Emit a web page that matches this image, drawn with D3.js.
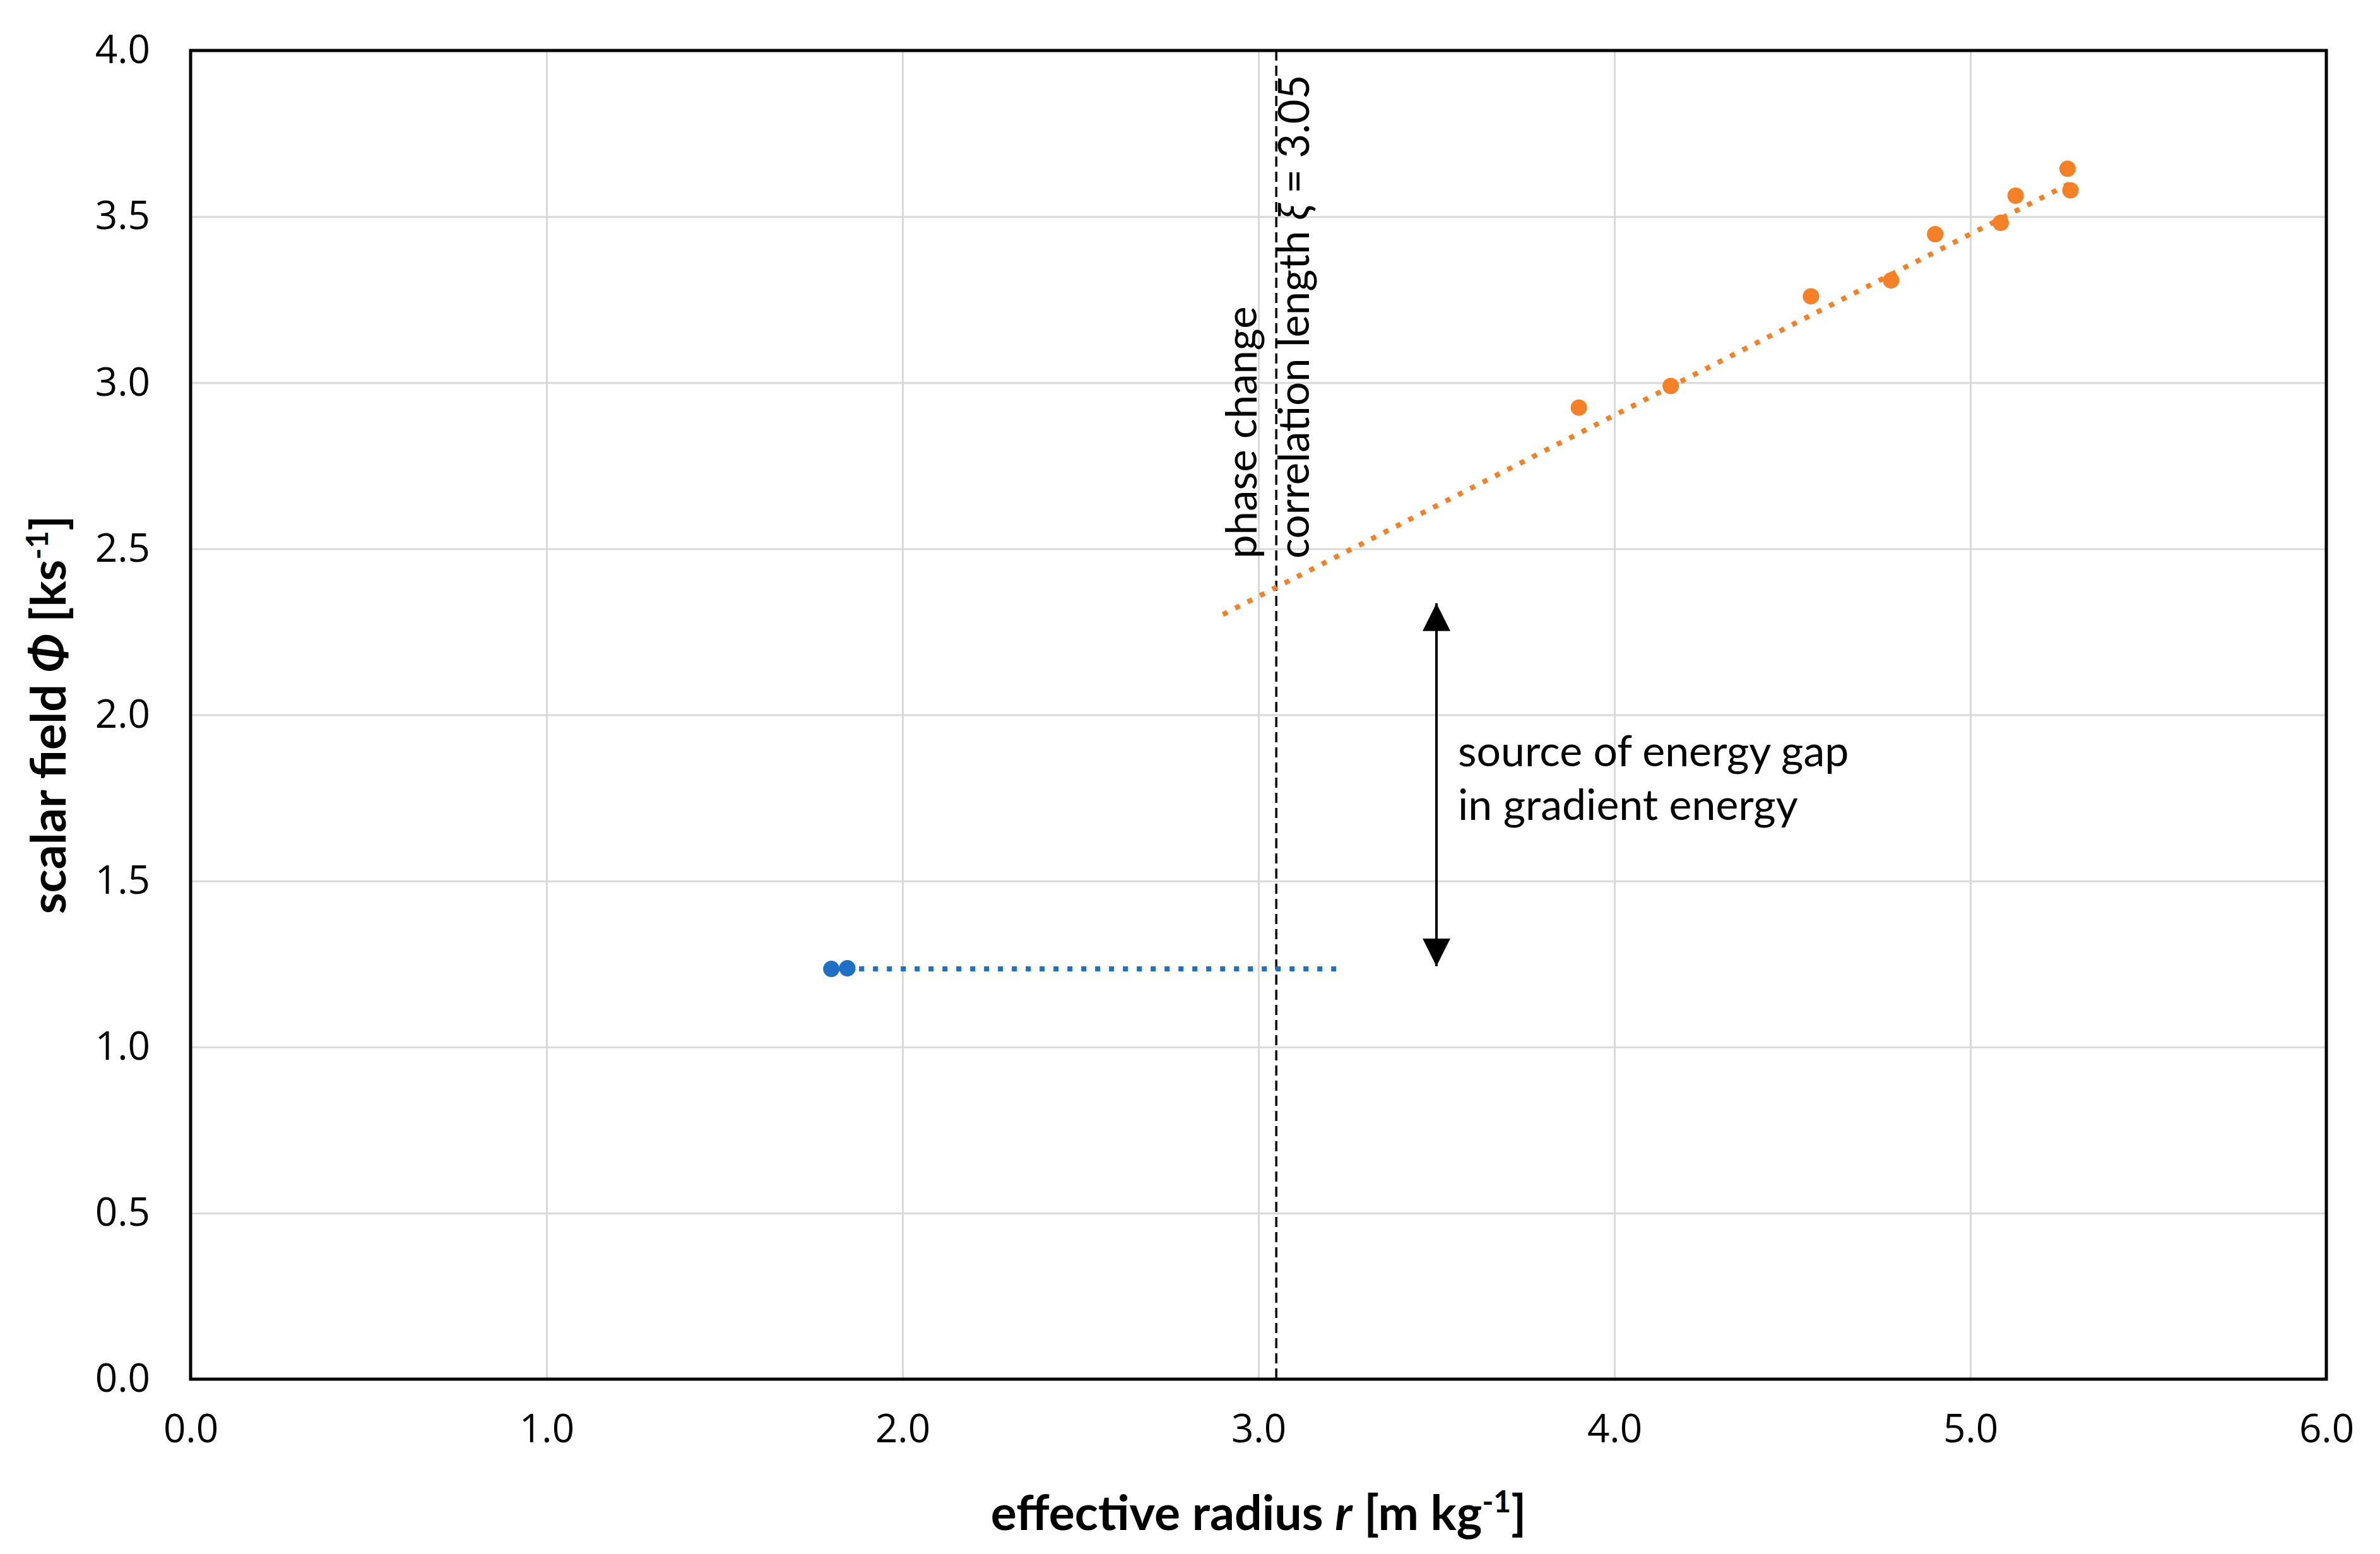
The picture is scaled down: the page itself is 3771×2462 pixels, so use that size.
<!DOCTYPE html>
<html>
<head>
<meta charset="utf-8">
<script src="https://cdn.jsdelivr.net/npm/d3@7"></script>
<style>
  body { margin: 0; background: #fff; }
  svg { display: block; }
  .tick text { font-family: "Open Sans", sans-serif; fill: #000; }
</style>
</head>
<body>
<svg id="chart" width="3771" height="2462"></svg>
<script>
// data
const blueX = [1.80, 1.845];
const blueY = [1.235, 1.237];
const orangeX = [3.90, 4.158, 4.552, 4.777, 4.901, 5.085, 5.127, 5.273, 5.281];
const orangeY = [2.925, 2.990, 3.260, 3.308, 3.447, 3.481, 3.563, 3.644, 3.579];

// trendlines (excel-style, with backward / forward forecast)
const blueTrendX = [1.80, 3.235];
const blueTrendY = [1.235, 1.235];
const orangeTrendX = [2.90, 5.28];
const orangeTrendY = [2.302, 3.600];

const xTicks = [0, 1, 2, 3, 4, 5, 6];
const yTicks = [0, 0.5, 1, 1.5, 2, 2.5, 3, 3.5, 4];

const phaseX = 3.05;          // correlation length
const gapArrowX = 3.5;
const gapArrowY = [1.243, 2.336];

const margin = { left: 302, right: 85, top: 80, bottom: 277 };
const W = 3771, H = 2462;
const plotW = W - margin.left - margin.right;
const plotH = H - margin.top - margin.bottom;

const svg = d3.select("#chart");

const defs = svg.append("defs");
defs.append("marker")
    .attr("id", "ahead")
    .attr("viewBox", "0 0 10 10")
    .attr("refX", 10).attr("refY", 5)
    .attr("markerWidth", 11).attr("markerHeight", 11)
    .attr("markerUnits", "strokeWidth")
    .attr("orient", "auto-start-reverse")
    .append("path")
    .attr("d", "M0,0 L10,5 L0,10 Z")
    .attr("fill", "#000");

const g = svg.append("g").attr("transform", `translate(${margin.left},${margin.top})`);

const x = d3.scaleLinear().domain([0, 6]).range([0, plotW]);
const y = d3.scaleLinear().domain([0, 4]).range([plotH, 0]);

// gridlines
g.append("g")
    .attr("transform", `translate(0,${plotH})`)
    .call(d3.axisBottom(x).tickValues(xTicks).tickSize(-plotH).tickFormat(""))
    .call(s => s.select(".domain").remove())
    .call(s => s.selectAll("line").attr("stroke", "#d9d9d9").attr("stroke-width", 3));

g.append("g")
    .call(d3.axisLeft(y).tickValues(yTicks).tickSize(-plotW).tickFormat(""))
    .call(s => s.select(".domain").remove())
    .call(s => s.selectAll("line").attr("stroke", "#d9d9d9").attr("stroke-width", 3));

// tick labels
g.append("g")
    .attr("transform", `translate(0,${plotH})`)
    .call(d3.axisBottom(x).tickValues(xTicks).tickSize(0).tickPadding(56).tickFormat(d3.format(".1f")))
    .call(s => s.select(".domain").remove())
    .call(s => s.selectAll("text").attr("font-size", 62));

g.append("g")
    .call(d3.axisLeft(y).tickValues(yTicks).tickSize(0).tickPadding(64).tickFormat(d3.format(".1f")))
    .call(s => s.select(".domain").remove())
    .call(s => s.selectAll("text").attr("font-size", 62));

// plot border
g.append("rect")
    .attr("width", plotW).attr("height", plotH)
    .attr("fill", "none").attr("stroke", "#000").attr("stroke-width", 5);

// phase change line
g.append("line")
    .attr("x1", x(phaseX)).attr("x2", x(phaseX))
    .attr("y1", 0).attr("y2", plotH)
    .attr("stroke", "#000").attr("stroke-width", 3.5)
    .attr("stroke-dasharray", "16,8");

const line = d3.line().x(d => x(d[0])).y(d => y(d[1]));

// trendlines
g.append("path")
    .datum(d3.zip(blueTrendX, blueTrendY))
    .attr("d", line)
    .attr("fill", "none").attr("stroke", "#1f6fc6").attr("stroke-width", 8)
    .attr("stroke-dasharray", "8,14");

g.append("path")
    .datum(d3.zip(orangeTrendX, orangeTrendY))
    .attr("d", line)
    .attr("fill", "none").attr("stroke", "#f58025").attr("stroke-width", 8)
    .attr("stroke-dasharray", "8,14");

// points
g.append("g").selectAll("circle")
    .data(d3.zip(blueX, blueY))
    .join("circle")
    .attr("cx", d => x(d[0])).attr("cy", d => y(d[1]))
    .attr("r", 13).attr("fill", "#1f6fc6");

g.append("g").selectAll("circle")
    .data(d3.zip(orangeX, orangeY))
    .join("circle")
    .attr("cx", d => x(d[0])).attr("cy", d => y(d[1]))
    .attr("r", 13).attr("fill", "#f58025");

// gap arrow
g.append("line")
    .attr("x1", x(gapArrowX)).attr("x2", x(gapArrowX))
    .attr("y1", y(gapArrowY[0])).attr("y2", y(gapArrowY[1]))
    .attr("stroke", "#000").attr("stroke-width", 4)
    .attr("marker-start", "url(#ahead)")
    .attr("marker-end", "url(#ahead)");

const note = g.append("text")
    .attr("font-family", "Lato, sans-serif")
    .attr("font-size", 68)
    .attr("fill", "#000");
note.append("tspan").attr("x", x(gapArrowX) + 34).attr("y", 1134).text("source of energy gap");
note.append("tspan").attr("x", x(gapArrowX) + 34).attr("y", 1219).text("in gradient energy");

// rotated labels next to the dashed line
g.append("text")
    .attr("transform", `translate(${x(phaseX) - 31},805) rotate(-90)`)
    .attr("font-family", "Lato, sans-serif").attr("font-size", 67)
    .text("phase change");

const corr = g.append("text")
    .attr("transform", `translate(${x(phaseX) + 52},805) rotate(-90)`)
    .attr("font-family", "Lato, sans-serif").attr("font-size", 67);
corr.append("tspan").text("correlation length ");
corr.append("tspan").attr("font-style", "italic").text("ξ");
corr.append("tspan").text(" = 3.05");

// axis titles
const xt = svg.append("text")
    .attr("x", margin.left + plotW / 2).attr("y", 2424)
    .attr("text-anchor", "middle")
    .attr("font-family", "Lato, sans-serif").attr("font-size", 77).attr("font-weight", "bold");
xt.append("tspan").text("effective radius ");
xt.append("tspan").attr("font-style", "italic").text("r");
xt.append("tspan").text(" [m kg");
xt.append("tspan").attr("font-size", 48).attr("dy", -28).text("-1");
xt.append("tspan").attr("dy", 28).text("]");

const yt = svg.append("text")
    .attr("transform", `translate(104,${margin.top + plotH / 2}) rotate(-90)`)
    .attr("text-anchor", "middle")
    .attr("font-family", "Lato, sans-serif").attr("font-size", 77).attr("font-weight", "bold");
yt.append("tspan").text("scalar field ");
yt.append("tspan").attr("font-style", "italic").text("Φ");
yt.append("tspan").text(" [ks");
yt.append("tspan").attr("font-size", 48).attr("dy", -28).text("-1");
yt.append("tspan").attr("dy", 28).text("]");
</script>
</body>
</html>
